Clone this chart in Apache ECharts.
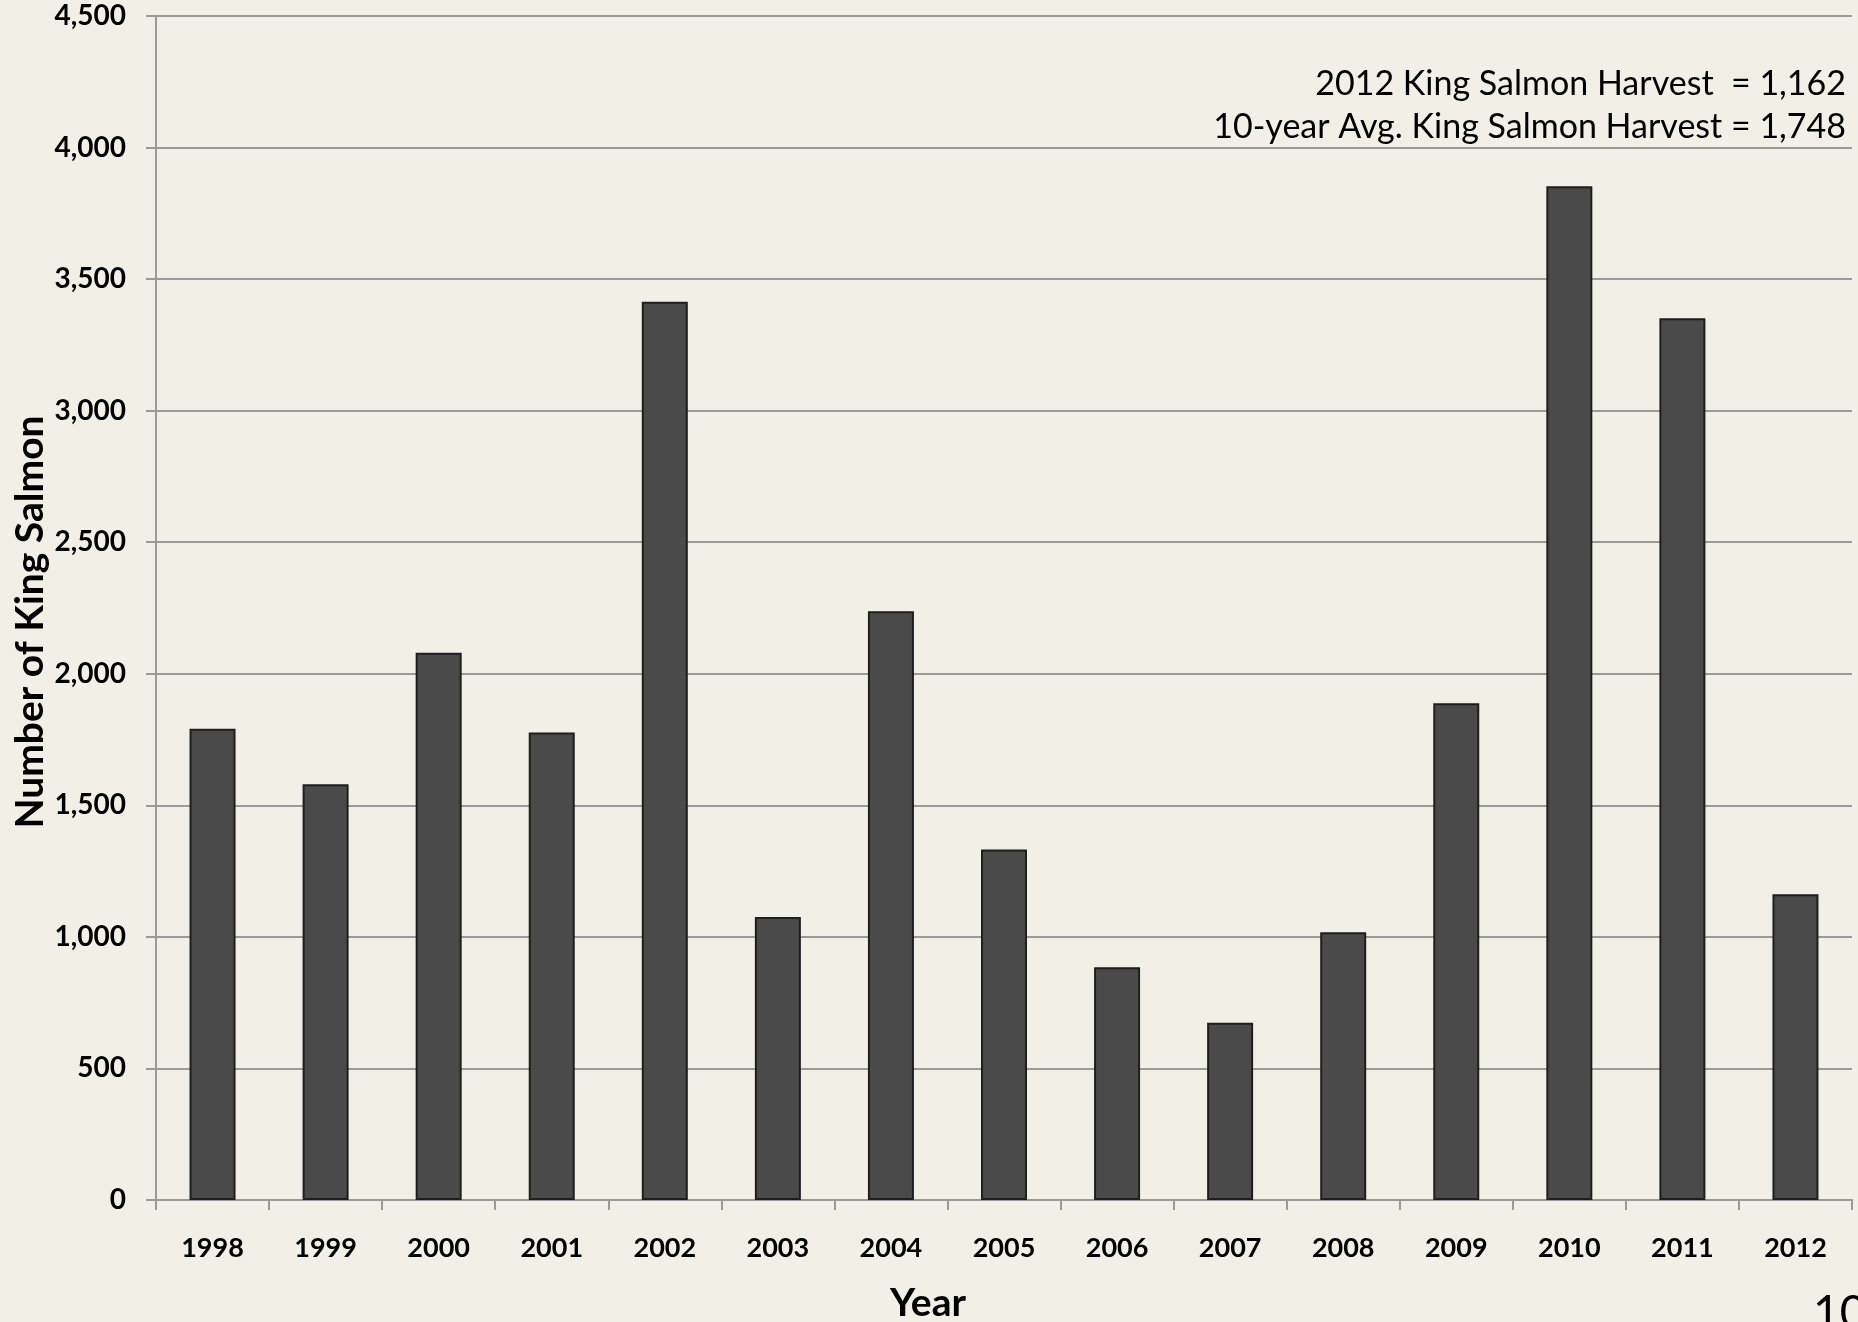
<!DOCTYPE html>
<html>
<head>
<meta charset="utf-8">
<script src="https://cdn.jsdelivr.net/npm/echarts@6/dist/echarts.min.js"></script>
<style>
  html, body { margin: 0; padding: 0; background: #F2EFE7; }
  #chart { width: 1858px; height: 1322px; }
</style>
</head>
<body>
<div id="chart"></div>
<script>
const years = ['1998','1999','2000','2001','2002','2003','2004','2005','2006','2007','2008','2009','2010','2011','2012'];
const harvest = [1791, 1580, 2080, 1777, 3414, 1076, 2238, 1332, 885, 674, 1018, 1888, 3853, 3351, 1162];
const yTicks = { min: 0, max: 4500, interval: 500 };
const xTitle = 'Year';
const yTitle = 'Number of King Salmon';
const note1 = '2012 King Salmon Harvest  = 1,162';
const note2 = '10-year Avg. King Salmon Harvest = 1,748';
const pageNum = '10';

const FONT = 'Lato, "Open Sans", sans-serif';
const chart = echarts.init(document.getElementById('chart'), null, { renderer: 'canvas' });
chart.setOption({
  backgroundColor: '#F2EFE7',
  animation: false,
  grid: { left: 156, right: 6, top: 16, bottom: 122, containLabel: false },
  xAxis: {
    type: 'category',
    data: years,
    axisLine: { lineStyle: { color: '#9A9A9A', width: 2 } },
    axisTick: { show: true, alignWithLabel: false, length: 10, lineStyle: { color: '#9A9A9A', width: 2 } },
    axisLabel: { margin: 35, fontFamily: FONT, fontWeight: 'bold', fontSize: 27, color: '#000' },
    splitLine: { show: false }
  },
  yAxis: {
    type: 'value',
    min: yTicks.min, max: yTicks.max, interval: yTicks.interval,
    axisLine: { show: true, lineStyle: { color: '#9A9A9A', width: 2 } },
    axisTick: { show: true, length: 10, lineStyle: { color: '#9A9A9A', width: 2 } },
    axisLabel: {
      margin: 30, fontFamily: FONT, fontWeight: 'bold', fontSize: 28, color: '#000',
      formatter: v => v.toLocaleString('en-US')
    },
    splitLine: { show: true, lineStyle: { color: '#9A9A9A', width: 2 } }
  },
  series: [{
    type: 'bar',
    data: harvest,
    barWidth: 46,
    itemStyle: { color: '#4A4A4A', borderColor: '#1E1E1E', borderWidth: 2 }
  }],
  graphic: [
    { type: 'text', x: 1846, y: 84, style: { text: note1, font: '34px ' + FONT, fill: '#000', textAlign: 'right', textVerticalAlign: 'middle' } },
    { type: 'text', x: 1846, y: 127, style: { text: note2, font: '34px ' + FONT, fill: '#000', textAlign: 'right', textVerticalAlign: 'middle' } },
    { type: 'text', x: 928, y: 1303, style: { text: xTitle, font: 'bold 39px ' + FONT, fill: '#000', textAlign: 'center', textVerticalAlign: 'middle' } },
    { type: 'text', x: 30, y: 622, rotation: Math.PI / 2, style: { text: yTitle, font: 'bold 39px ' + FONT, fill: '#000', textAlign: 'center', textVerticalAlign: 'middle' } },
    { type: 'text', left: 1813, top: 1290, style: { text: pageNum, font: '46px ' + FONT, fill: '#000' } }
  ]
});
</script>
</body>
</html>
